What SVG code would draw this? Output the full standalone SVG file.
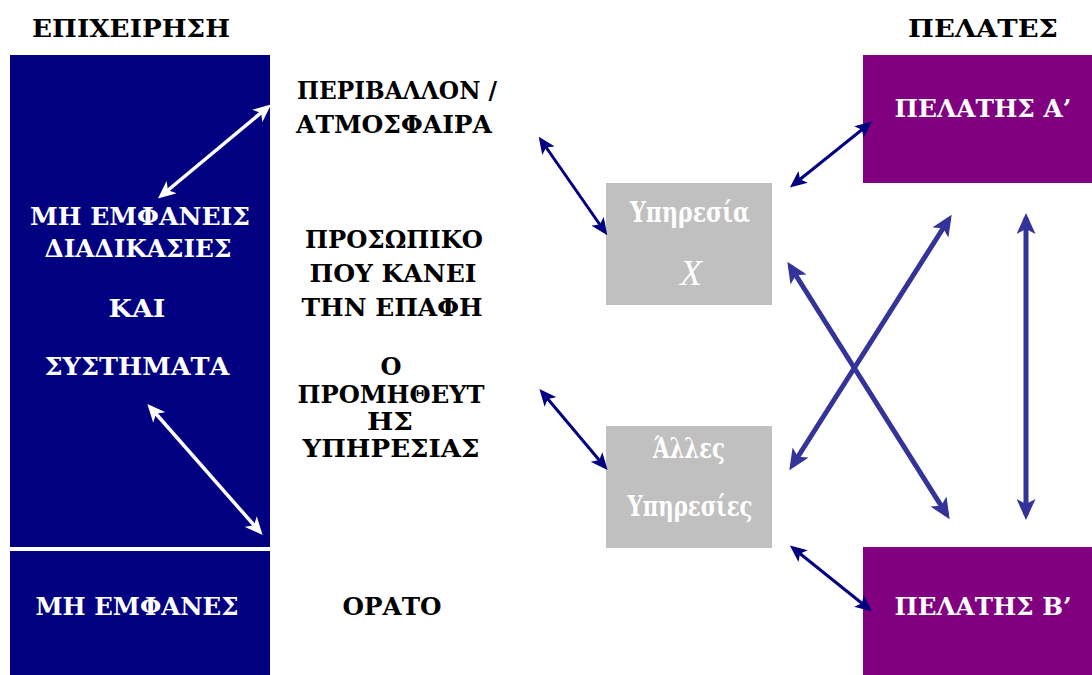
<svg xmlns="http://www.w3.org/2000/svg" width="1092" height="675" viewBox="0 0 1092 675">
  <style>
    text { font-family: "DejaVu Serif", "Liberation Serif", serif; font-weight: bold; font-size: 25px; text-anchor: middle; }
    .dark { fill: #000000; }
    .light { fill: #ffffff; }
    .svc-text { fill: #ffffff; font-size: 27px; }
    .firm { fill: #000080; }
    .svc { fill: #c0c0c0; }
    .client { fill: #800080; }
    .w { stroke: #ffffff; stroke-width: 3.5; fill: none; }
    .n { stroke: #000080; stroke-width: 3; fill: none; }
    .b { stroke: #333399; stroke-width: 5; fill: none; }
  </style>
  <defs>
    <marker id="hw" viewBox="0 0 18 16" refX="14" refY="8" markerWidth="18" markerHeight="16" markerUnits="userSpaceOnUse" orient="auto-start-reverse">
      <path d="M0,0 L18,8 L0,16 L5,8 z" fill="#ffffff"/>
    </marker>
    <marker id="hn" viewBox="0 0 17 15" refX="13" refY="7.5" markerWidth="17" markerHeight="15" markerUnits="userSpaceOnUse" orient="auto-start-reverse">
      <path d="M0,0 L17,7.5 L0,15 L4,7.5 z" fill="#000080"/>
    </marker>
    <marker id="hb" viewBox="0 0 21 19" refX="16" refY="9.5" markerWidth="21" markerHeight="19" markerUnits="userSpaceOnUse" orient="auto-start-reverse">
      <path d="M0,0 L21,9.5 L0,19 L5,9.5 z" fill="#333399"/>
    </marker>
  </defs>

  <!-- column headings -->
  <g id="heading-firm"><text class="dark" x="131" y="37" textLength="198" lengthAdjust="spacingAndGlyphs">ΕΠΙΧΕΙΡΗΣΗ</text></g>
  <g id="heading-clients"><text class="dark" x="983" y="37" textLength="150" lengthAdjust="spacingAndGlyphs">ΠΕΛΑΤΕΣ</text></g>

  <!-- firm: hidden processes and systems -->
  <g id="hidden-processes">
    <rect class="firm" x="10" y="55" width="260" height="492"/>
    <text class="light" x="140" y="225" textLength="220" lengthAdjust="spacingAndGlyphs">ΜΗ ΕΜΦΑΝΕΙΣ</text>
    <text class="light" x="138" y="257" textLength="187" lengthAdjust="spacingAndGlyphs">ΔΙΑΔΙΚΑΣΙΕΣ</text>
    <text class="light" x="137" y="317" textLength="57" lengthAdjust="spacingAndGlyphs">ΚΑΙ</text>
    <text class="light" x="137" y="375" textLength="185" lengthAdjust="spacingAndGlyphs">ΣΥΣΤΗΜΑΤΑ</text>
  </g>
  <g id="hidden">
    <rect class="firm" x="10" y="551" width="260" height="124"/>
    <text class="light" x="137" y="615" textLength="203" lengthAdjust="spacingAndGlyphs">ΜΗ ΕΜΦΑΝΕΣ</text>
  </g>

  <!-- visible part -->
  <g id="environment">
    <text class="dark" x="397" y="99" textLength="200" lengthAdjust="spacingAndGlyphs">ΠΕΡΙΒΑΛΛΟΝ /</text>
    <text class="dark" x="394" y="133" textLength="196" lengthAdjust="spacingAndGlyphs">ΑΤΜΟΣΦΑΙΡΑ</text>
  </g>
  <g id="staff">
    <text class="dark" x="394" y="248" textLength="178" lengthAdjust="spacingAndGlyphs">ΠΡΟΣΩΠΙΚΟ</text>
    <text class="dark" x="393" y="282" textLength="167" lengthAdjust="spacingAndGlyphs">ΠΟΥ ΚΑΝΕΙ</text>
    <text class="dark" x="392" y="316" textLength="181" lengthAdjust="spacingAndGlyphs">ΤΗΝ ΕΠΑΦΗ</text>
  </g>
  <g id="provider">
    <text class="dark" x="391" y="375" textLength="21" lengthAdjust="spacingAndGlyphs">Ο</text>
    <text class="dark" x="391" y="403" textLength="187" lengthAdjust="spacingAndGlyphs">ΠΡΟΜΗΘΕΥΤ</text>
    <text class="dark" x="390" y="430" textLength="46" lengthAdjust="spacingAndGlyphs">ΗΣ</text>
    <text class="dark" x="391" y="457" textLength="177" lengthAdjust="spacingAndGlyphs">ΥΠΗΡΕΣΙΑΣ</text>
  </g>
  <g id="visible"><text class="dark" x="392" y="615" textLength="99" lengthAdjust="spacingAndGlyphs">ΟΡΑΤΟ</text></g>

  <!-- services -->
  <g id="service-x">
    <rect class="svc" x="606" y="183" width="166" height="122"/>
    <text class="svc-text" x="690" y="222" textLength="120" lengthAdjust="spacingAndGlyphs">Υπηρεσία</text>
    <text class="light" x="691" y="285" style="font-family:'Liberation Serif',serif;font-weight:normal;font-style:italic;font-size:36px">X</text>
  </g>
  <g id="other-services">
    <rect class="svc" x="606" y="426" width="166" height="122"/>
    <text class="svc-text" x="689" y="458" textLength="72" lengthAdjust="spacingAndGlyphs">Άλλες</text>
    <text class="svc-text" x="690" y="516" textLength="125" lengthAdjust="spacingAndGlyphs">Υπηρεσίες</text>
  </g>

  <!-- clients -->
  <g id="client-a">
    <rect class="client" x="863" y="55" width="229" height="128"/>
    <text class="light" x="983" y="117" textLength="177" lengthAdjust="spacingAndGlyphs">ΠΕΛΑΤΗΣ Α’</text>
  </g>
  <g id="client-b">
    <rect class="client" x="863" y="547" width="229" height="128"/>
    <text class="light" x="983" y="615" textLength="177" lengthAdjust="spacingAndGlyphs">ΠΕΛΑΤΗΣ Β’</text>
  </g>

  <!-- connectors -->
  <g id="connectors">
    <line class="w" x1="161" y1="196" x2="268" y2="107" marker-start="url(#hw)" marker-end="url(#hw)"/>
    <line class="w" x1="150" y1="407" x2="260" y2="532" marker-start="url(#hw)" marker-end="url(#hw)"/>
    <line class="n" x1="541" y1="140" x2="605" y2="232" marker-start="url(#hn)" marker-end="url(#hn)"/>
    <line class="n" x1="542" y1="392" x2="605" y2="467" marker-start="url(#hn)" marker-end="url(#hn)"/>
    <line class="n" x1="793" y1="185" x2="869" y2="124" marker-start="url(#hn)" marker-end="url(#hn)"/>
    <line class="n" x1="793" y1="548" x2="869" y2="609" marker-start="url(#hn)" marker-end="url(#hn)"/>
    <line class="b" x1="790" y1="266" x2="947" y2="515" marker-start="url(#hb)" marker-end="url(#hb)"/>
    <line class="b" x1="792" y1="466" x2="949" y2="219" marker-start="url(#hb)" marker-end="url(#hb)"/>
    <line class="b" x1="1026" y1="218" x2="1026" y2="515" marker-start="url(#hb)" marker-end="url(#hb)"/>
  </g>
</svg>
